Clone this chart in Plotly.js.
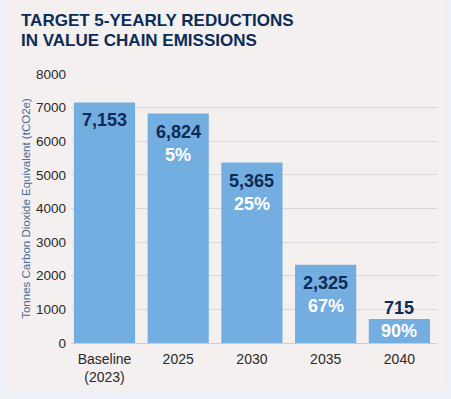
<!DOCTYPE html>
<html>
<head>
<meta charset="utf-8">
<script src="https://cdn.plot.ly/plotly-3.0.1.min.js"></script>
<style>
  html, body { margin: 0; padding: 0; background: #edf1f7; }
  #chart { width: 451px; height: 399px; }
</style>
</head>
<body>
<div id="chart"></div>
<script>
const categories = ["Baseline<br>(2023)", "2025", "2030", "2035", "2040"];
const emissions = [7153, 6824, 5365, 2325, 715];
const valueLabels = ["7,153", "6,824", "5,365", "2,325", "715"];
const reductionLabels = ["", "5%", "25%", "67%", "90%"];
const yTicks = [0, 1000, 2000, 3000, 4000, 5000, 6000, 7000, 8000];
const titleLines = ["TARGET 5-YEARLY REDUCTIONS", "IN VALUE CHAIN EMISSIONS"];

const navy = "#0c2b57";
const barColor = "#74ade0";
const font = "Liberation Sans, Arial, sans-serif";

const idx = categories.map((_, i) => i);

const trace = {
  type: "bar",
  x: idx,
  y: emissions,
  marker: { color: barColor },
  hoverinfo: "skip",
  width: 0.83
};

// pixel -> paper helpers for the plot area (l=71, w=366, t=74, h=269)
const px = p => (p - 71) / 366;
const py = q => (343 - q) / 269;

const annotations = [];
titleLines.forEach((t, i) => {
  annotations.push({
    xref: "paper", yref: "paper",
    x: px(19), y: py(20 + i * 20),
    xanchor: "left", yanchor: "middle",
    text: "<b>" + t + "</b>",
    showarrow: false,
    font: { family: font, size: 17, color: navy }
  });
});
emissions.forEach((v, i) => {
  const outside = v < 1500;
  annotations.push({
    x: i, y: v, xref: "x", yref: "y",
    text: "<b>" + valueLabels[i] + "</b>",
    showarrow: false,
    yanchor: "middle",
    yshift: outside ? 11 : -18,
    font: { family: font, size: 18, color: navy }
  });
  if (reductionLabels[i]) {
    annotations.push({
      x: i, y: v, xref: "x", yref: "y",
      text: "<b>" + reductionLabels[i] + "</b>",
      showarrow: false,
      yanchor: "middle",
      yshift: outside ? -12 : -41,
      font: { family: font, size: 18, color: "#ffffff" }
    });
  }
});

const layout = {
  width: 451,
  height: 399,
  margin: { l: 71, r: 14, t: 74, b: 56 },
  paper_bgcolor: "#edf1f7",
  plot_bgcolor: "rgba(0,0,0,0)",
  showlegend: false,
  xaxis: {
    range: [-0.454, 4.51],
    tickmode: "array",
    tickvals: idx,
    ticktext: categories,
    showgrid: false,
    zeroline: false,
    showline: false,
    ticks: "",
    ticklabelstandoff: 6,
    tickfont: { family: font, size: 14, color: "#2a2a2a" },
    fixedrange: true
  },
  yaxis: {
    range: [0, 8000],
    tickmode: "array",
    tickvals: yTicks,
    showgrid: true,
    gridcolor: "#d9d6d5",
    gridwidth: 1,
    zeroline: true,
    zerolinecolor: "#cfcccb",
    showline: false,
    ticks: "",
    ticklabelstandoff: 4,
    tickfont: { family: font, size: 13.5, color: "#2a2a2a" },
    title: {
      text: "Tonnes Carbon Dioxide Equivalent (tCO2e)",
      font: { family: font, size: 11.5, color: "#4d6b99" },
      standoff: 2
    },
    fixedrange: true
  },
  shapes: [{
    type: "rect", layer: "below",
    xref: "paper", yref: "paper",
    x0: px(5), x1: px(446),
    y0: py(391), y1: py(0),
    fillcolor: "#f3f0ef", line: { width: 0 }
  }],
  annotations: annotations,
  bargap: 0.17
};

Plotly.newPlot("chart", [trace], layout, { displayModeBar: false, staticPlot: true });
</script>
</body>
</html>
